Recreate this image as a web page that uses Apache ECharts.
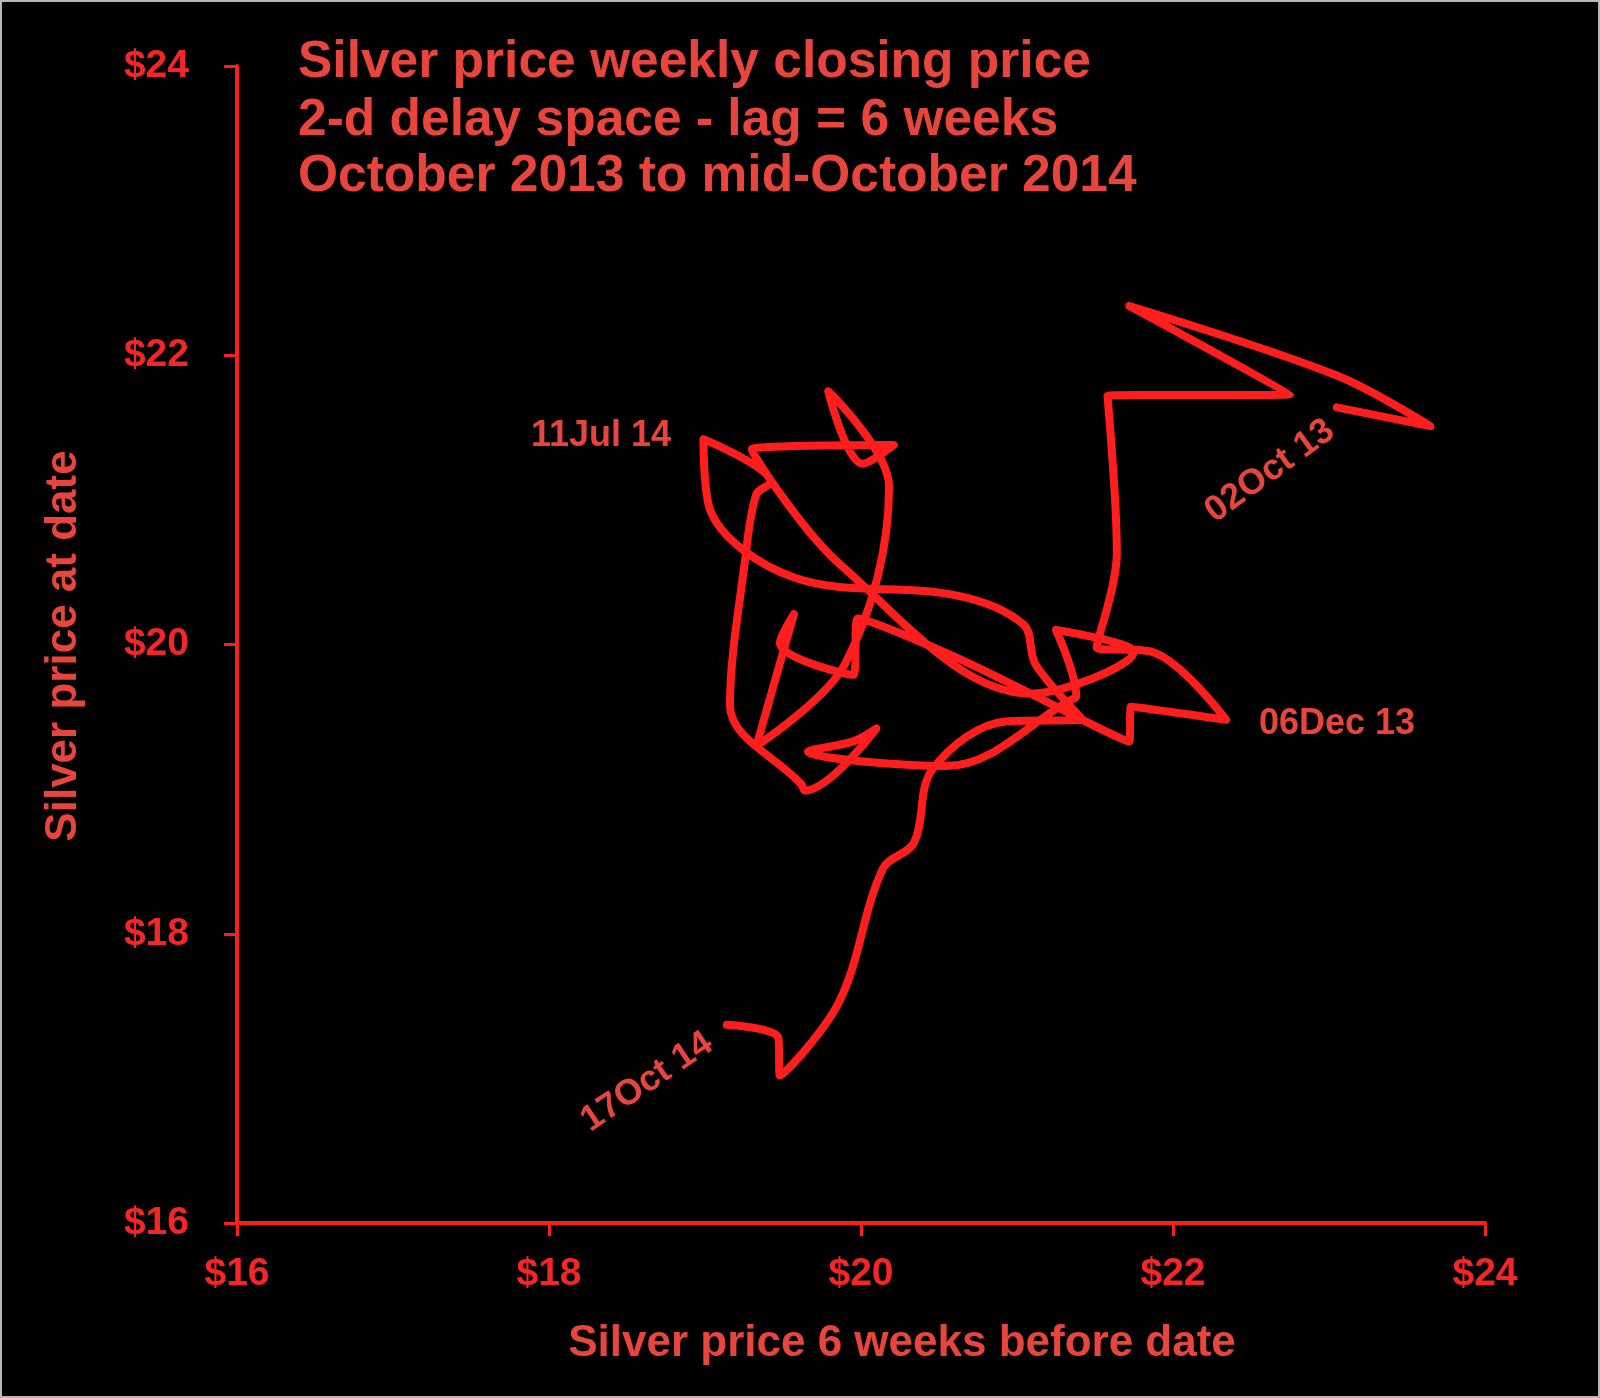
<!DOCTYPE html>
<html>
<head>
<meta charset="utf-8">
<script src="https://cdn.jsdelivr.net/npm/echarts@6/dist/echarts.min.js"></script>
<style>
  html, body { margin: 0; padding: 0; background: #ffffff; }
  #all { position: absolute; left: 0; top: 0; width: 1600px; height: 1398px; box-sizing: border-box; border: 2px solid #b8b8b8; }
</style>
</head>
<body>
<div id="all"></div>
<script>
// price six weeks earlier (x) and price at date (y), one pair per week
var lagPrice = [23.05, 23.65, 23.05, 21.72, 22.75, 21.58, 21.64, 21.51, 21.86, 22.34, 21.73, 21.72,
                20.63, 19.98, 19.95, 19.48, 19.57, 19.33, 19.90, 20.18, 19.79, 20.01, 20.21, 19.30,
                19.87, 21.09, 21.75, 21.25, 21.38, 21.35, 20.55, 19.66, 19.95, 20.10, 19.64, 19.62,
                19.16, 19.26, 19.33, 19.42, 18.99, 19.03, 19.58, 20.61, 21.04, 21.12, 21.42, 20.94,
                20.46, 20.34, 20.14, 19.86, 19.48, 19.47, 19.14];
var datePrice = [21.64, 21.51, 21.86, 22.34, 21.73, 21.72, 20.63, 19.98, 19.95, 19.48, 19.57, 19.33,
                 19.90, 20.18, 19.79, 20.01, 20.21, 19.30, 19.87, 21.09, 21.75, 21.25, 21.38, 21.35,
                 20.55, 19.66, 19.95, 20.10, 19.64, 19.62, 19.16, 19.26, 19.33, 19.42, 18.99, 19.03,
                 19.58, 20.61, 21.04, 21.12, 21.42, 20.94, 20.46, 20.34, 20.14, 19.86, 19.48, 19.47,
                 19.14, 18.63, 18.45, 17.53, 17.02, 17.28, 17.37];
var titleLines = ['Silver price weekly closing price', '2-d delay space - lag = 6 weeks', 'October 2013 to mid-October 2014'];

var red = '#ff1e1e';
var textRed = '#e8453c';
var font = '"Liberation Sans", Arial, sans-serif';

var points = [];
for (var i = 0; i < lagPrice.length; i++) points.push([lagPrice[i], datePrice[i]]);

function txt(s, x, y, size, rot, align) {
    return {
        type: 'text', x: x, y: y, rotation: rot || 0, silent: true,
        style: {
            text: s, fill: textRed, font: 'bold ' + size + 'px ' + font,
            textAlign: align || 'center', textVerticalAlign: 'middle',
            align: align || 'center', verticalAlign: 'middle'
        }
    };
}

var myChart = echarts.init(document.getElementById('all'));

option = {
    backgroundColor: '#000000',
    animation: false,
    grid: { left: 235, right: 113, top: 64, bottom: 173, containLabel: false },
    xAxis: {
        type: 'value', min: 16, max: 24, interval: 2,
        axisLine: { lineStyle: { color: red, width: 4 } },
        axisTick: { show: true, length: 13, lineStyle: { color: red, width: 3 } },
        splitLine: { show: false },
        axisLabel: {
            margin: 32, color: '#f42626', fontSize: 39, fontWeight: 'bold', fontFamily: font,
            formatter: function (v) { return '$' + v; }
        }
    },
    yAxis: {
        type: 'value', min: 16, max: 24, interval: 2,
        axisLine: { lineStyle: { color: red, width: 4 } },
        axisTick: { show: true, length: 13, lineStyle: { color: red, width: 3 } },
        splitLine: { show: false },
        axisLabel: {
            margin: 48, color: '#f42626', fontSize: 39, fontWeight: 'bold', fontFamily: font,
            formatter: function (v) { return '$' + v; }
        }
    },
    graphic: [
        txt(titleLines[0], 296, 61, 51.5, 0, 'left'),
        txt(titleLines[1], 296, 119, 51.5, 0, 'left'),
        txt(titleLines[2], 296, 175, 51.5, 0, 'left'),
        txt('Silver price at date', 62, 644, 44, Math.PI / 2),
        txt('Silver price 6 weeks before date', 900, 1342, 44),
        txt('11Jul 14', 599, 434, 36),
        txt('06Dec 13', 1335, 722, 36),
        txt('02Oct 13', 1268, 469, 36, 36 * Math.PI / 180),
        txt('17Oct 14', 645, 1080, 36, 34 * Math.PI / 180)
    ],
    series: [
        {
            type: 'line',
            data: points,
            smooth: 0.35,
            showSymbol: false,
            lineStyle: { color: red, width: 8, cap: 'round', join: 'round' }
        }
    ]
};

myChart.setOption(option);
window.onresize = myChart.resize;
</script>
</body>
</html>
